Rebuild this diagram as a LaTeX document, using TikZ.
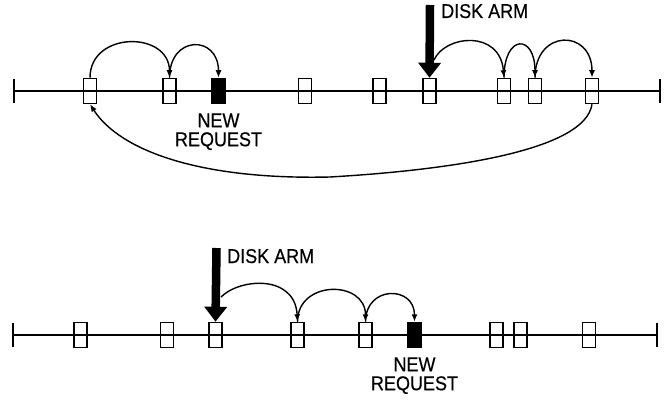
\documentclass[tikz,border=0pt]{standalone}
\usepackage{fontspec}
\newfontfamily\figfont{Liberation Sans}[FakeStretch=0.9, FakeBold=0.4]
\usetikzlibrary{arrows.meta, positioning}

\begin{document}
\begin{tikzpicture}[x=1pt, y=-1pt,
    >={Latex[length=7.5pt, width=6pt]},
    req/.style   ={draw, line width=1.5pt, minimum width=13pt,
                   minimum height=25pt, inner sep=0pt},
    newreq/.style={req, fill=black},
    track/.style ={line width=1.5pt},
    hop/.style   ={->, line width=1.4pt},
    arm/.style   ={line width=8.5pt, -{Triangle[length=15pt, width=22pt]}},
    lbl/.style   ={font=\figfont\fontsize{20}{19}\selectfont,
                   inner sep=0pt, align=center},
]
\useasboundingbox (0,0) rectangle (668,401);

% upper track
\coordinate (tl) at (14,91);
\coordinate (tr) at (660,91);
\draw[track] (tl) -- (tr);
\draw[track] ([yshift=12pt]tl) -- ([yshift=-12pt]tl);
\draw[track] ([yshift=12pt]tr) -- ([yshift=-12pt]tr);
\node[req]    (t1)   at (90,91)    {};
\node[req]    (t2)   at (169.5,91) {};
\node[newreq] (tnew) at (218.5,91) {};
\node[req]    (t4)   at (305,91)   {};
\node[req]    (t5)   at (379.5,91) {};
\node[req]    (t6)   at (429.5,91) {};
\node[req]    (t7)   at (504,91)   {};
\node[req]    (t8)   at (535,91)   {};
\node[req]    (t9)   at (592,91)   {};
\node[lbl, below=9pt of tnew] (tnewlbl) {NEW\\REQUEST};

\coordinate (tarmtop) at (430,5);
\coordinate (tarmside) at (434,60);
\coordinate (tdip) at (330,177);
\draw[arm] (tarmtop) -- (t6.north);
\node[lbl, anchor=base west] (tarmlbl) at (441,18) {DISK ARM};

\draw[hop] (t1.north) .. controls +(0,-47) and +(0,-47) .. (t2.north);
\draw[hop] (t2.north) .. controls +(0,-43) and +(0,-43) .. (tnew.north);
\draw[hop] (tarmside) .. controls +(11,-25) and +(-4,-48.5) .. (t7.north);
\draw[hop] (t7.north) .. controls +(0,-44) and +(0,-44) .. (t8.north);
\draw[hop] (t8.north) .. controls +(0,-49) and +(0,-49) .. (t9.north);
% sweep back to the start
\draw[hop] (t9.south) .. controls +(-7,46.5) and +(120,-7) .. (tdip)
   .. controls +(-130,3) and +(30,46.5) .. (t1.south);

% lower track
\coordinate (bl) at (13,335);
\coordinate (br) at (657,335);
\draw[track] (bl) -- (br);
\draw[track] ([yshift=12pt]bl) -- ([yshift=-12pt]bl);
\draw[track] ([yshift=12pt]br) -- ([yshift=-12pt]br);
\node[req]    (b1)   at (80.5,335)  {};
\node[req]    (b2)   at (167,335)   {};
\node[req]    (b3)   at (215.5,335) {};
\node[req]    (b4)   at (297.5,335) {};
\node[req]    (b5)   at (365.5,335) {};
\node[newreq] (bnew) at (414.5,335) {};
\node[req]    (b7)   at (496.5,335) {};
\node[req]    (b8)   at (520.5,335) {};
\node[req]    (b9)   at (589,335)   {};
\node[lbl, below=9pt of bnew] (bnewlbl) {NEW\\REQUEST};

\coordinate (barmtop) at (216.5,248);
\coordinate (barmside) at (221,297);
\draw[arm] (barmtop) -- (b3.north);
\node[lbl, anchor=base west] (barmlbl) at (227,263) {DISK ARM};

\draw[hop] (barmside) .. controls +(19,-19) and +(-2.5,-47.5) .. (b4.north);
\draw[hop] (b4.north) .. controls +(0,-42) and +(0,-42) .. (b5.north);
\draw[hop] (b5.north) .. controls +(0,-36.5) and +(0,-36.5) .. (bnew.north);
\end{tikzpicture}
\end{document}
